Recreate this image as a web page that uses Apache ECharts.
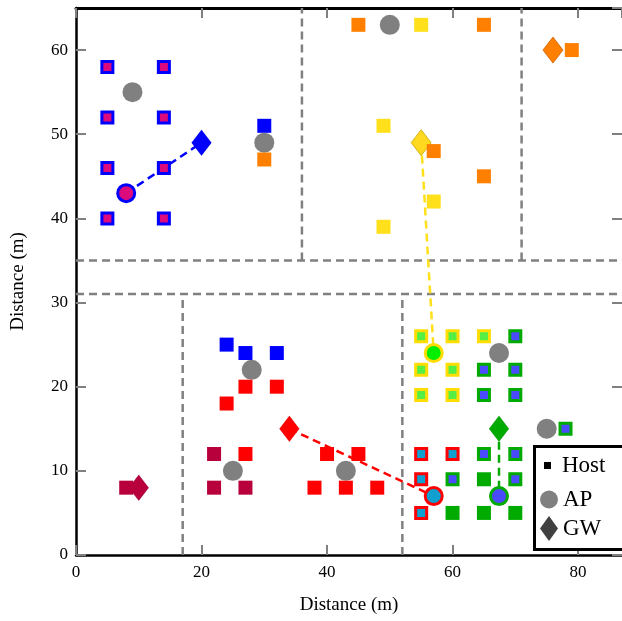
<!DOCTYPE html>
<html>
<head>
<meta charset="utf-8">
<script src="https://cdn.jsdelivr.net/npm/echarts@6/dist/echarts.min.js"></script>
<style>
  html, body { margin: 0; padding: 0; background: #fff; }
  #chartContainerID { width: 622px; height: 621px; }
</style>
</head>
<body>
<div id="chartContainerID"></div>
<script>
// axis ranges and ticks
var xRange = [0, 87];
var yRange = [0, 65];
var xTickStep = 20;
var yTickStep = 10;

// hosts, grouped by look
var hostBlueRing = [[5,58],[14,58],[5,52],[14,52],[5,46],[14,46],[5,40],[14,40]];
var hostBlue = [[30,51],[24,25],[27,24],[32,24]];
var hostOrange = [[30,47],[45,63],[65,63],[57,48],[65,45],[79,60]];
var hostYellow = [[55,63],[49,51],[57,42],[49,39]];
var hostRed = [[27,20],[32,20],[24,18],[27,12],[40,12],[45,12],[38,8],[43,8],[48,8]];
var hostCrimson = [[22,12],[22,8],[27,8],[8,8]];
var hostYellowRing = [[55,26],[60,26],[65,26],[55,22],[60,22],[55,19],[60,19]];
var hostGreenRing = [[70,26],[65,22],[70,22],[65,19],[70,19],[60,9],[65,12],[70,12],[70,9],[78,15]];
var hostRedRing = [[55,12],[60,12],[55,9],[55,5]];
var hostGreen = [[60,5],[65,9],[65,5],[70,5]];

// access points
var apGray = [[9,55],[30,49],[50,63],[28,22],[25,10],[43,10],[67.4,24],[75,15]];
var apBlue = [[8,43]];
var apYellow = [[57,24]];
var apRed = [[57,7]];
var apGreen = [[67.4,7]];

// gateways
var gwBlue = [[20,49]];
var gwYellow = [[55,49]];
var gwOrange = [[76,60]];
var gwRed = [[34,15]];
var gwGreen = [[67.4,15]];
var gwCrimson = [[10,8]];

// AP -> GW links
var linkBlue = [[8,43],[20,49]];
var linkYellow = [[55,49],[57,24]];
var linkRed = [[34,15],[57,7]];
var linkGreen = [[67.4,15],[67.4,7]];

// region borders
var regionLines = [
  [[17,0],[17,31]],
  [[52,0],[52,31]],
  [[36,35],[36,65]],
  [[71,35],[71,65]],
  [[0,31],[87,31]],
  [[0,35],[87,35]]
];

var font = 'Liberation Serif';
var gray = '#808080';

var myChart = echarts.init(document.getElementById('chartContainerID'));

function dashLine(data, color, z) {
  return {
    type: 'line', data: data, symbol: 'none', silent: true, z: z,
    lineStyle: { color: color, width: 2.5, type: [8, 5] }
  };
}
function plainSq(data, color) {
  return { name: 'Host', type: 'scatter', data: data, symbol: 'rect', symbolSize: 14, z: 6,
    itemStyle: { color: color, opacity: 1 } };
}
function ringSq(data, fill, border) {
  return { name: 'Host', type: 'scatter', data: data, symbol: 'rect', symbolSize: 11, z: 6,
    itemStyle: { color: fill, borderColor: border, borderWidth: 3, opacity: 1 } };
}
function apDot(data, fill, border) {
  var st = { color: fill, opacity: 1 };
  if (border) { st.borderColor = border; st.borderWidth = 3; }
  return { name: 'AP', type: 'scatter', data: data, symbol: 'circle', symbolSize: border ? 17 : 20, z: 4, itemStyle: st };
}
function gw(data, color, edge) {
  return { name: 'GW', type: 'scatter', data: data, symbol: 'diamond', symbolSize: [20, 26], z: 5,
    itemStyle: { color: color, opacity: 1, borderColor: edge || 'rgba(0,0,0,0.15)', borderWidth: edge ? 0.8 : 0.5 } };
}

var series = [];
regionLines.forEach(function (seg) { series.push(dashLine(seg, gray, 1)); });
series.push(dashLine(linkBlue, '#0000ff', 2));
series.push(dashLine(linkYellow, '#ffe01a', 2));
series.push(dashLine(linkRed, '#ff0000', 2));
series.push(dashLine(linkGreen, '#00aa00', 2));

series.push(ringSq(hostBlueRing, '#dc0a7c', '#0000ff'));
series.push(plainSq(hostBlue, '#0000ff'));
series.push(plainSq(hostOrange, '#ff8000'));
series.push(plainSq(hostYellow, '#ffe01a'));
series.push(plainSq(hostRed, '#ff0000'));
series.push(plainSq(hostCrimson, '#b8003c'));
series.push(ringSq(hostYellowRing, '#55ee44', '#ffdd00'));
series.push(ringSq(hostGreenRing, '#4a4aff', '#00aa00'));
series.push(ringSq(hostRedRing, '#10a0d0', '#ff0000'));
series.push(plainSq(hostGreen, '#00aa00'));

series.push(apDot(apGray, gray));
series.push(apDot(apBlue, '#dc0a7c', '#0000ff'));
series.push(apDot(apYellow, '#00ee00', '#ffdd00'));
series.push(apDot(apRed, '#10a0d0', '#ff0000'));
series.push(apDot(apGreen, '#4a4aff', '#00aa00'));

series.push(gw(gwBlue, '#0000ff'));
series.push(gw(gwYellow, '#ffd820', '#c8a800'));
series.push(gw(gwOrange, '#ff8000', '#d06000'));
series.push(gw(gwRed, '#ff0000'));
series.push(gw(gwGreen, '#00aa00'));
series.push(gw(gwCrimson, '#b8003c'));

function ticks() {
  return { show: true, inside: true, length: 10, lineStyle: { color: gray, width: 2 } };
}

function legendItem(name, icon, color, top, w, h, left, gap) {
  return {
    data: [{ name: name, icon: icon, itemStyle: { color: color, borderWidth: 0 } }],
    left: left, top: top, itemWidth: w, itemHeight: h, selectedMode: false, z: 10,
    textStyle: { fontFamily: font, fontSize: 23, color: '#000', padding: [0, 0, 0, gap] }
  };
}

var option = {
  animation: false,
  grid: { left: 76, top: 8, width: 549, height: 547 },
  xAxis: [{
    type: 'value', min: xRange[0], max: xRange[1], interval: xTickStep,
    name: 'Distance (m)', nameLocation: 'middle', nameGap: 41,
    nameTextStyle: { fontFamily: font, fontSize: 19, color: '#000' },
    axisLine: { show: true, onZero: false, lineStyle: { color: '#000', width: 2.5 } },
    axisTick: ticks(), splitLine: { show: false },
    axisLabel: { fontFamily: font, fontSize: 17, color: '#000', margin: 9, showMaxLabel: false }
  }, {
    type: 'value', position: 'top', min: xRange[0], max: xRange[1], interval: xTickStep,
    axisLine: { show: true, onZero: false, lineStyle: { color: '#000', width: 3 } },
    axisTick: ticks(), splitLine: { show: false }, axisLabel: { show: false }
  }],
  yAxis: [{
    type: 'value', min: yRange[0], max: yRange[1], interval: yTickStep,
    name: 'Distance (m)', nameLocation: 'middle', nameGap: 48,
    nameTextStyle: { fontFamily: font, fontSize: 19, color: '#000' },
    axisLine: { show: true, onZero: false, lineStyle: { color: '#000', width: 2.5 } },
    axisTick: ticks(), splitLine: { show: false },
    axisLabel: { fontFamily: font, fontSize: 17, color: '#000', margin: 8, showMaxLabel: false }
  }, {
    type: 'value', position: 'right', min: yRange[0], max: yRange[1], interval: yTickStep,
    axisLine: { show: false, onZero: false }, axisTick: ticks(), splitLine: { show: false },
    axisLabel: { show: false }
  }],
  legend: [
    legendItem('Host', 'rect', '#000', 449, 7, 7, 539, 6),
    legendItem('AP', 'circle', gray, 483, 18, 18, 535, 0),
    legendItem('GW', 'diamond', '#404040', 511, 18, 25, 535, 0)
  ],
  graphic: [{
    type: 'rect', left: 533, top: 445, z: 9,
    shape: { width: 100, height: 103 },
    style: { fill: '#fff', stroke: '#000', lineWidth: 3 }
  }],
  series: series
};
myChart.setOption(option);
</script>
</body>
</html>
